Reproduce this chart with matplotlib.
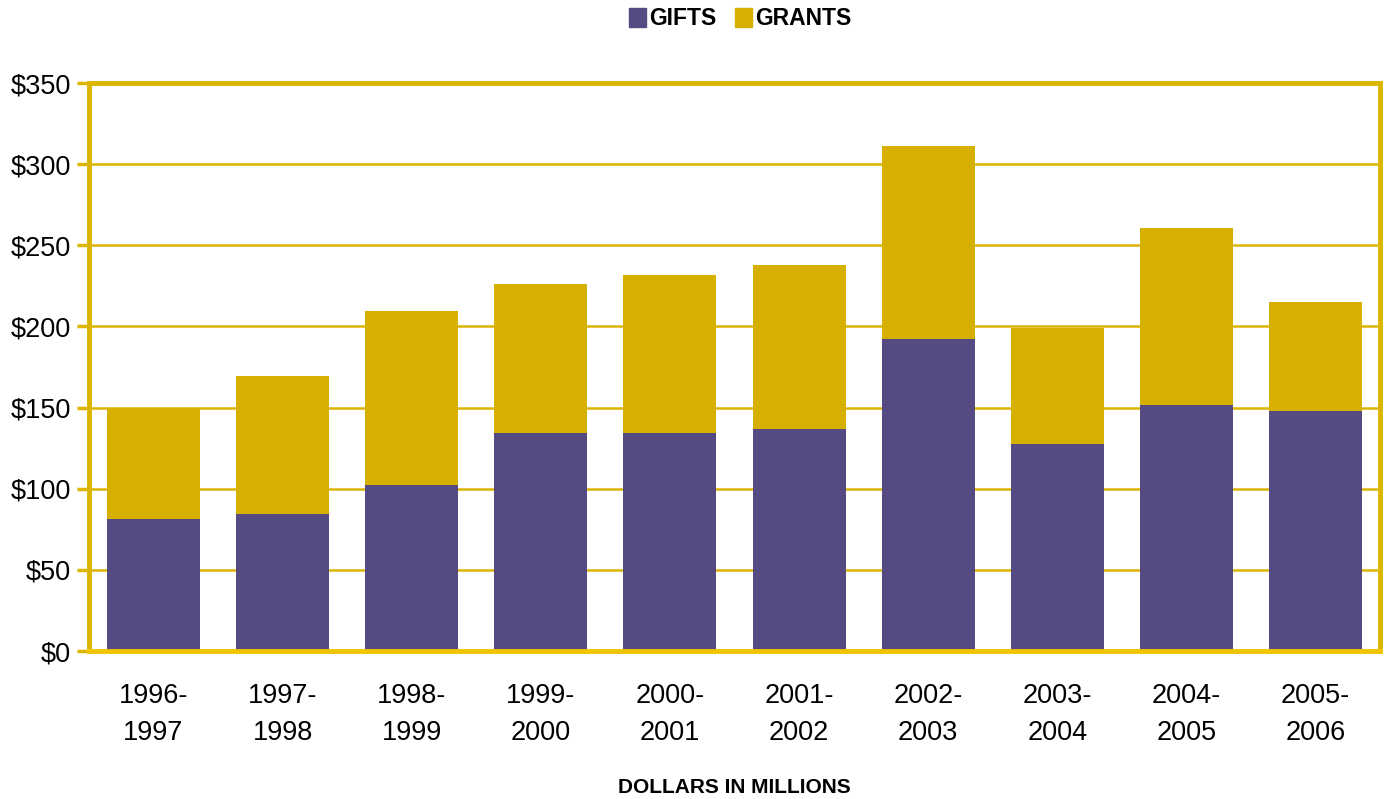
import matplotlib
matplotlib.use("Agg")
import matplotlib.pyplot as plt
from matplotlib.patches import Patch

plt.rcParams['font.family'] = ['Liberation Sans', 'DejaVu Sans']

categories = ["1996-\n1997", "1997-\n1998", "1998-\n1999", "1999-\n2000", "2000-\n2001",
              "2001-\n2002", "2002-\n2003", "2003-\n2004", "2004-\n2005", "2005-\n2006"]
gifts = [81.5, 84.5, 102, 134.5, 134.5, 137, 192, 127.5, 151.5, 148]
totals = [149.5, 169.5, 209.5, 226, 231.5, 238, 311, 199, 260.5, 215]
grants = [t - g for t, g in zip(totals, gifts)]
yticks = [0, 50, 100, 150, 200, 250, 300, 350]

purple = "#554a82"
gold = "#d6b000"
axis_gold = "#dcb500"

fig = plt.figure(figsize=(13.86, 7.99), dpi=100)
ax = fig.add_axes([89/1386, 148/799, (1380-89)/1386, (651-83)/799])

x = list(range(len(categories)))
ax.bar(x, gifts, width=0.72, color=purple, zorder=3)
ax.bar(x, grants, bottom=gifts, width=0.72, color=gold, zorder=3)

ax.set_xlim(-0.5, len(categories) - 0.5)
ax.set_ylim(0, 350)
ax.set_yticks(yticks)
ax.set_yticklabels([f"${v}" for v in yticks], fontsize=19.5)
ax.set_xticks(x)
ax.set_xticklabels(categories, fontsize=19.5, linespacing=1.55)
ax.tick_params(axis='x', length=0, pad=23)
ax.tick_params(axis='y', length=9, width=2.5, color=axis_gold, pad=4)

ax.yaxis.grid(True, color=axis_gold, linewidth=1.8, zorder=0)
ax.set_axisbelow(True)
for s in ['left', 'right', 'top']:
    ax.spines[s].set_color(axis_gold)
    ax.spines[s].set_linewidth(3.5)
ax.spines['bottom'].set_color("#f2c400")
ax.spines['bottom'].set_linewidth(3.5)
ax.spines['bottom'].set_zorder(4)

ax.set_xlabel("DOLLARS IN MILLIONS", fontsize=15, fontweight='bold', labelpad=23)

handles = [Patch(color=purple, label="GIFTS"), Patch(color=gold, label="GRANTS")]
fig.legend(handles=handles, loc='upper center', bbox_to_anchor=(0.534, 1.017), ncol=2,
           frameon=False, prop={'size': 16.5, 'weight': 'bold'}, handlelength=0.75,
           handleheight=0.9, handletextpad=0.15, columnspacing=0.8)

fig.savefig("out.png", dpi=100)
